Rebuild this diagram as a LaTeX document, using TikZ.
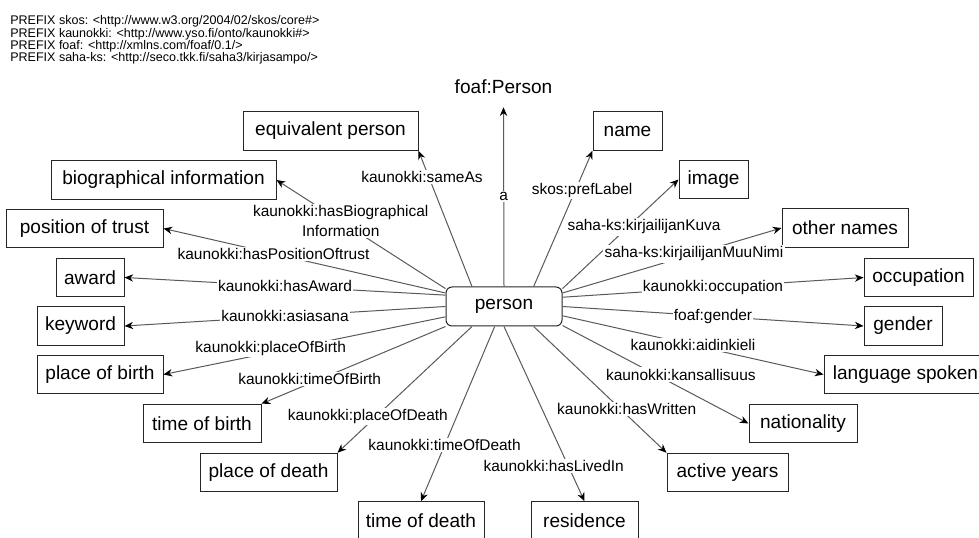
\documentclass[tikz,border=0pt]{standalone}
\usepackage{fontspec}
\setmainfont{Liberation Sans}
\usepackage{tikz}
\usetikzlibrary{arrows.meta}
\tikzstyle{concept} = [rectangle, minimum height=28.9pt, inner sep=0pt, text centered, draw=black!85, line width=0.75pt, font=\fontsize{14.3pt}{17pt}\selectfont]
\tikzstyle{resource} = [concept, rounded corners=4.5pt]
\tikzstyle{arrow} = [draw=black!65, line width=0.75pt, -{Stealth[length=6.5pt, width=5.5pt, color=black]}]
\tikzstyle{prop} = [fill=white, inner sep=1pt, align=center, font=\fontsize{11.6pt}{15pt}\selectfont]

\begin{document}
\begin{tikzpicture}[x=0.75pt, y=-0.75pt]
    \useasboundingbox (0,0) rectangle (979,538);

    % prefixes
    \node (prefixes) [anchor=north west, align=left, inner sep=0pt, font=\fontsize{9.4pt}{9.15pt}\selectfont] at (10,15.5) {PREFIX skos: <http://www.w3.org/2004/02/skos/core\#>\\PREFIX kaunokki: <http://www.yso.fi/onto/kaunokki\#>\\PREFIX foaf: <http://xmlns.com/foaf/0.1/>\\PREFIX saha-ks: <http://seco.tkk.fi/saha3/kirjasampo/>};

    \node (person) [resource, minimum width=87pt, minimum height=29.25pt] at (504,306.5) {person};
    \node (foafperson) [inner sep=0pt, minimum height=30pt, font=\fontsize{14.3pt}{17pt}\selectfont] at (503.5,87) {foaf:Person};

    % left side
    \node (eqperson) [concept, minimum width=131.25pt] at (330.5,131) {equivalent person};
    \node (bioinfo) [concept, minimum width=168.75pt] at (163.5,180) {biographical information};
    \node (trust) [concept, minimum width=117.75pt] at (84.5,228.5) {position of trust};
    \node (award) [concept, minimum width=51pt] at (90,277.5) {award};
    \node (keyword) [concept, minimum width=65.25pt] at (80.5,326) {keyword};
    \node (birthplace) [concept, minimum width=94.5pt] at (100,374.5) {place of birth};
    \node (birthtime) [concept, minimum width=88.5pt] at (202,423.5) {time of birth};
    \node (deathplace) [concept, minimum width=102.75pt] at (268.5,472.5) {place of death};
    \node (deathtime) [concept, minimum width=94.5pt] at (421,521) {time of death};

    % right side
    \node (name) [concept, minimum width=51.75pt] at (627.5,131) {name};
    \node (image) [concept, minimum width=51.75pt] at (713.5,179.5) {image};
    \node (othernames) [concept, minimum width=94.5pt] at (845,228) {other names};
    \node (occupation) [concept, minimum width=81.75pt] at (918.5,277.5) {occupation};
    \node (gender) [concept, minimum width=58.5pt] at (903,326) {gender};
    \node (language) [concept, minimum width=122.25pt] at (905.5,374.5) {language spoken};
    \node (nationality) [concept, minimum width=81pt] at (803,423.5) {nationality};
    \node (activeyears) [concept, minimum width=90.75pt] at (727.5,472.5) {active years};
    \node (residence) [concept, minimum width=80.25pt] at (584.5,521) {residence};

    % properties
    \draw[arrow] (person.148) -- node[prop, pos=0.81, xshift=-5pt] {kaunokki:sameAs} (eqperson.south east);
    \draw[arrow] (person.north) -- node[prop, pos=0.5] {a} (foafperson.south);
    \draw[arrow] (person.34) -- node[prop, pos=0.71, xshift=5pt] {skos:prefLabel} (name.south west);
    \draw[arrow] (person.17) -- node[prop, pos=0.565, xshift=12pt] {saha-ks:kirjailijanKuva} (image.west);
    \draw[arrow] (person.13) -- node[prop, pos=0.6] {saha-ks:kirjailijanMuuNimi} (othernames.west);
    \draw[arrow] (person.9) -- node[prop, pos=0.5] {kaunokki:occupation} (occupation.west);
    \draw[arrow] (person.east) -- node[prop, pos=0.5] {foaf:gender} (gender.west);
    \draw[arrow] (person.-9) -- node[prop, pos=0.5] {kaunokki:aidinkieli} (language.west);
    \draw[arrow] (person.-18) -- node[prop, pos=0.5, xshift=19pt] {kaunokki:kansallisuus} (nationality.west);
    \draw[arrow] (person.-34) -- node[prop, pos=0.65, xshift=5pt] {kaunokki:hasWritten} (activeyears.north west);
    \draw[arrow] (person.south) -- node[prop, pos=0.8, xshift=-11pt] {kaunokki:hasLivedIn} (residence.north);
    \draw[arrow] (person.245) -- node[prop, pos=0.68] {kaunokki:timeOfDeath} (deathtime.north);
    \draw[arrow] (person.212) -- node[prop, pos=0.715, xshift=-6pt] {kaunokki:placeOfDeath} (deathplace.north east);
    \draw[arrow] (person.south west) -- node[prop, pos=0.68, xshift=-8pt] {kaunokki:timeOfBirth} (birthtime.north east);
    \draw[arrow] (person.190) -- node[prop, pos=0.62, yshift=3pt] {kaunokki:placeOfBirth} (birthplace.east);
    \draw[arrow] (person.west) -- node[prop, pos=0.5] {kaunokki:asiasana} (keyword.east);
    \draw[arrow] (person.169) -- node[prop, pos=0.5] {kaunokki:hasAward} (award.east);
    \draw[arrow] (person.167) -- node[prop, pos=0.61] {kaunokki:hasPositionOftrust} (trust.east);
    \draw[arrow] (person.163) -- node[prop, pos=0.62] {kaunokki:hasBiographical\\Information} (bioinfo.east);
\end{tikzpicture}
\end{document}
